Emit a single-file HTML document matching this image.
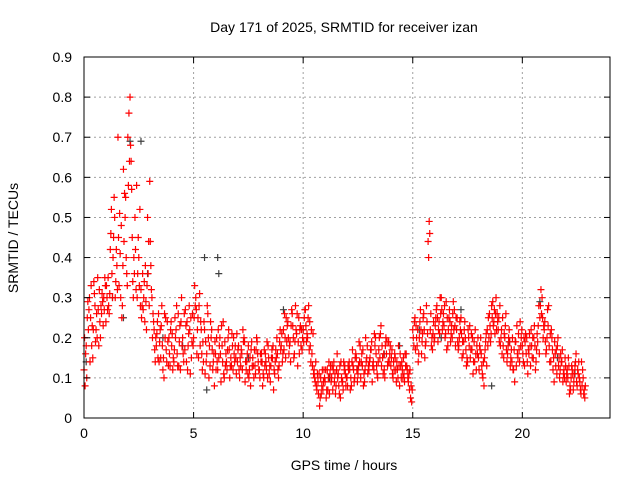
<!DOCTYPE html>
<html><head><meta charset="utf-8"><style>
html,body{margin:0;padding:0;background:#fff;}
svg{display:block;font-family:"Liberation Sans",sans-serif;}
</style></head><body>
<svg id="chart" width="640" height="480">
<text x="344" y="32" font-size="14" text-anchor="middle">Day 171 of 2025, SRMTID for receiver izan</text>
<text x="344" y="470" font-size="14" text-anchor="middle">GPS time / hours</text>
<text x="18" y="238" font-size="14" text-anchor="middle" transform="rotate(-90 18 238)">SRMTID / TECUs</text>
<g id="grid"></g><g id="marks"></g><g id="axes"></g>
</svg>
<script>
const xTicks=[0,5,10,15,20];
const yTicks=[0,0.1,0.2,0.3,0.4,0.5,0.6,0.7,0.8,0.9];
const yTickLabels=["0","0.1","0.2","0.3","0.4","0.5","0.6","0.7","0.8","0.9"];
const sampleStepHours=0.1;
const redA=[0.12,0.18,0.22,0.25,0.15,0.28,0.20,0.32,0.26,0.30,
0.24,0.35,0.42,0.30,0.50,0.38,0.33,0.48,0.62,0.55,
0.70,0.80,0.45,0.36,0.58,0.40,0.32,0.27,0.38,0.50,
0.59,0.30,0.22,0.18,0.26,0.15,0.12,0.20,0.24,0.16,
0.18,0.14,0.22,0.26,0.12,0.20,0.17,0.24,0.28,0.15,
0.20,0.30,0.25,0.18,0.12,0.22,0.16,0.10,0.20,0.14,
0.16,0.12,0.20,0.18,0.10,0.14,0.22,0.15,0.12,0.18,
0.14,0.10,0.16,0.20,0.12,0.18,0.08,0.15,0.13,0.19,
0.12,0.16,0.10,0.14,0.18,0.09,0.15,0.11,0.20,0.13,
0.18,0.22,0.15,0.24,0.19,0.26,0.16,0.21,0.25,0.18,
0.22,0.27,0.20,0.24,0.16,0.12,0.08,0.06,0.10,0.07,
0.09,0.12,0.06,0.10,0.14,0.08,0.11,0.05,0.09,0.13,
0.10,0.14,0.08,0.12,0.16,0.11,0.18,0.13,0.09,0.15,
0.12,0.17,0.14,0.20,0.10,0.15,0.18,0.12,0.16,0.19,
0.13,0.10,0.15,0.12,0.08,0.14,0.11,0.16,0.09,0.05,
0.22,0.25,0.18,0.20,0.16,0.26,0.19,0.44,0.22,0.17,
0.20,0.28,0.24,0.30,0.26,0.21,0.18,0.24,0.20,0.27,
0.22,0.18,0.25,0.16,0.20,0.14,0.23,0.17,0.19,0.12,
0.15,0.20,0.10,0.17,0.22,0.26,0.28,0.24,0.30,0.22,
0.18,0.25,0.20,0.14,0.22,0.17,0.12,0.19,0.15,0.24,
0.18,0.13,0.20,0.16,0.22,0.15,0.12,0.19,0.25,0.30,
0.22,0.17,0.28,0.14,0.12,0.16,0.18,0.10,0.14,0.12,
0.09,0.15,0.07,0.11,0.13,0.08,0.10,0.14,0.06];
const redB=[0.08,0.25,0.30,0.18,0.34,0.22,0.27,0.20,0.29,0.35,
0.30,0.26,0.52,0.45,0.34,0.70,0.41,0.28,0.56,0.36,
0.76,0.64,0.30,0.42,0.36,0.52,0.28,0.34,0.22,0.44,
0.38,0.26,0.14,0.24,0.19,0.28,0.10,0.17,0.13,0.22,
0.12,0.25,0.16,0.19,0.30,0.14,0.23,0.18,0.11,0.26,
0.33,0.16,0.28,0.22,0.14,0.19,0.26,0.13,0.17,0.08,
0.20,0.15,0.09,0.24,0.13,0.17,0.10,0.21,0.16,0.11,
0.18,0.13,0.22,0.09,0.16,0.12,0.19,0.10,0.17,0.14,
0.16,0.08,0.13,0.19,0.11,0.15,0.07,0.17,0.12,0.22,
0.14,0.26,0.19,0.16,0.23,0.20,0.28,0.13,0.22,0.17,
0.25,0.19,0.28,0.14,0.21,0.09,0.11,0.03,0.08,0.12,
0.05,0.10,0.13,0.07,0.11,0.16,0.06,0.10,0.14,0.08,
0.13,0.07,0.17,0.10,0.12,0.19,0.14,0.08,0.20,0.11,
0.15,0.09,0.21,0.13,0.17,0.23,0.11,0.18,0.13,0.16,
0.17,0.12,0.09,0.18,0.13,0.10,0.16,0.12,0.07,0.04,
0.18,0.23,0.14,0.27,0.21,0.15,0.24,0.49,0.18,0.24,
0.25,0.19,0.30,0.22,0.28,0.17,0.25,0.21,0.29,0.18,
0.19,0.24,0.15,0.22,0.13,0.20,0.17,0.11,0.22,0.16,
0.18,0.13,0.08,0.21,0.25,0.19,0.29,0.21,0.26,0.19,
0.22,0.15,0.26,0.18,0.13,0.20,0.09,0.23,0.17,0.20,
0.14,0.21,0.11,0.18,0.15,0.23,0.17,0.28,0.32,0.20,
0.19,0.27,0.14,0.20,0.09,0.17,0.13,0.16,0.09,0.15,
0.12,0.06,0.13,0.09,0.16,0.11,0.07,0.12,0.05];
const redC=[0.20,0.10,0.27,0.33,0.22,0.19,0.35,0.24,0.31,0.27,
0.33,0.28,0.46,0.40,0.30,0.32,0.51,0.25,0.44,0.40,
0.58,0.68,0.34,0.50,0.30,0.33,0.25,0.30,0.29,0.36,
0.44,0.20,0.17,0.21,0.14,0.23,0.15,0.25,0.19,0.13,
0.21,0.17,0.28,0.13,0.24,0.16,0.27,0.12,0.22,0.19,
0.25,0.27,0.15,0.24,0.19,0.11,0.28,0.18,0.22,0.16,
0.12,0.22,0.16,0.14,0.19,0.12,0.17,0.13,0.20,0.15,
0.17,0.15,0.12,0.19,0.14,0.10,0.17,0.13,0.11,0.16,
0.10,0.14,0.17,0.12,0.15,0.13,0.18,0.14,0.16,0.19,
0.21,0.17,0.25,0.20,0.14,0.23,0.19,0.26,0.16,0.22,
0.19,0.23,0.25,0.18,0.13,0.10,0.07,0.11,0.06,0.09,
0.12,0.07,0.11,0.13,0.09,0.12,0.08,0.14,0.07,0.11,
0.08,0.12,0.14,0.09,0.15,0.13,0.10,0.17,0.12,0.18,
0.14,0.19,0.12,0.16,0.14,0.21,0.15,0.10,0.19,0.14,
0.15,0.14,0.12,0.10,0.16,0.12,0.09,0.13,0.11,0.08,
0.20,0.17,0.22,0.24,0.19,0.22,0.28,0.40,0.26,0.21,
0.23,0.25,0.21,0.27,0.23,0.29,0.22,0.19,0.26,0.23,
0.25,0.20,0.21,0.19,0.17,0.22,0.15,0.20,0.14,0.18,
0.12,0.16,0.14,0.19,0.18,0.23,0.25,0.27,0.22,0.25,
0.20,0.18,0.23,0.16,0.19,0.14,0.17,0.13,0.21,0.18,
0.16,0.19,0.14,0.21,0.18,0.20,0.14,0.23,0.28,0.25,
0.24,0.20,0.18,0.22,0.15,0.13,0.20,0.12,0.17,0.10,
0.11,0.13,0.10,0.07,0.14,0.12,0.09,0.08,0.07];
const redD=[0.16,0.29,0.14,0.23,0.31,0.26,0.18,0.28,0.23,0.33,
0.27,0.31,0.36,0.55,0.42,0.45,0.30,0.38,0.50,0.33,
0.64,0.57,0.40,0.32,0.45,0.28,0.36,0.24,0.33,0.28,
0.32,0.24,0.20,0.15,0.22,0.18,0.26,0.14,0.20,0.24,
0.15,0.20,0.13,0.23,0.18,0.26,0.14,0.21,0.25,0.18,
0.28,0.22,0.31,0.16,0.24,0.14,0.20,0.24,0.12,0.19,
0.14,0.18,0.23,0.11,0.16,0.20,0.13,0.18,0.14,0.21,
0.12,0.17,0.19,0.14,0.11,0.15,0.13,0.17,0.20,0.12,
0.14,0.11,0.16,0.10,0.13,0.17,0.12,0.15,0.10,0.17,
0.16,0.20,0.23,0.18,0.27,0.15,0.22,0.19,0.23,0.20,
0.27,0.21,0.17,0.22,0.11,0.14,0.09,0.05,0.12,0.10,
0.07,0.14,0.09,0.12,0.06,0.10,0.13,0.09,0.12,0.10,
0.12,0.10,0.13,0.15,0.09,0.14,0.16,0.11,0.14,0.13,
0.17,0.13,0.18,0.11,0.20,0.13,0.16,0.20,0.14,0.18,
0.11,0.16,0.14,0.13,0.10,0.15,0.13,0.10,0.12,0.07,
0.24,0.20,0.16,0.22,0.25,0.18,0.21,0.46,0.20,0.19,
0.27,0.22,0.26,0.24,0.20,0.25,0.27,0.23,0.22,0.25,
0.17,0.22,0.19,0.24,0.15,0.18,0.21,0.14,0.16,0.20,
0.17,0.11,0.15,0.13,0.20,0.21,0.23,0.26,0.24,0.28,
0.16,0.21,0.17,0.20,0.15,0.12,0.19,0.16,0.14,0.22,
0.20,0.16,0.17,0.13,0.20,0.18,0.21,0.16,0.26,0.23,
0.16,0.23,0.21,0.17,0.19,0.11,0.15,0.14,0.11,0.13,
0.10,0.08,0.12,0.11,0.09,0.14,0.06,0.10,0.08];
const grayHours=[0.1,1.3,2.1,2.6,2.9,5.5,5.6,6.1,6.15,9.1,10.0,14.4,17.2,18.6,20.8,7.5,12.5,16.3,3.6,4.5,1.8,8.3,11.2,13.7,15.3,19.4,21.6,22.4];
const grayValues=[0.14,0.30,0.69,0.69,0.36,0.40,0.07,0.40,0.36,0.27,0.22,0.18,0.27,0.08,0.29,0.15,0.12,0.20,0.20,0.18,0.25,0.14,0.10,0.16,0.22,0.19,0.15,0.11];

const L=84,R=610,T=57,B=418,xMax=24,yMax=0.9;
const NS="http://www.w3.org/2000/svg";
function xs(v){return L+(R-L)*v/xMax;}
function ys(v){return B-(B-T)*v/yMax;}
function mk(tag,attrs,parent){const e=document.createElementNS(NS,tag);for(const k in attrs)e.setAttribute(k,attrs[k]);parent.appendChild(e);return e;}
const grid=document.getElementById('grid'),marks=document.getElementById('marks'),axes=document.getElementById('axes');
xTicks.forEach(t=>{
 const x=xs(t);
 if(t>0){const g=mk('line',{x1:x,x2:x,y1:T,y2:B,stroke:'#a0a0a0','stroke-dasharray':'2,3'},grid);
 
 }
 const tk=mk('line',{x1:x,x2:x,y1:B,y2:B-6,stroke:'#000'},axes);
 
 
 const tk2=mk('line',{x1:x,x2:x,y1:T,y2:T+6,stroke:'#000'},axes);
 
 
 const lb=mk('text',{x:x,y:B+20,'font-size':14,'text-anchor':'middle'},axes);lb.textContent=String(t);
 
 
});
yTicks.forEach((t,i)=>{
 const y=ys(t);
 if(t>0&&t<yMax){const g=mk('line',{x1:L,x2:R,y1:y,y2:y,stroke:'#a0a0a0','stroke-dasharray':'2,3'},grid);
 
 }
 const tk=mk('line',{x1:L,x2:L+6,y1:y,y2:y,stroke:'#000'},axes);
 
 
 const tk2=mk('line',{x1:R,x2:R-6,y1:y,y2:y,stroke:'#000'},axes);
 
 
 const lb=mk('text',{x:L-12,y:y+5,'font-size':14,'text-anchor':'end'},axes);lb.textContent=yTickLabels[i];
 
 
});
const frame=mk('rect',{x:L,y:T,width:R-L,height:B-T,fill:'none',stroke:'#000'},axes);


function plus(h,v,color,name){
 const x=xs(h),y=ys(v);
 const p=mk('path',{d:`M${x-3.5},${y}H${x+3.5}M${x},${y-3.5}V${y+3.5}`,stroke:color,'stroke-width':1.2,fill:'none'},marks);
 
 
}
grayValues.forEach((v,i)=>plus(grayHours[i],v,'#404040','gray-point'));
redA.forEach((v,i)=>plus(i*sampleStepHours,v,'#ff0000','red-point'));
redB.forEach((v,i)=>plus(i*sampleStepHours+sampleStepHours/2,v,'#ff0000','red-point'));
redC.forEach((v,i)=>plus(i*sampleStepHours+sampleStepHours/4,v,'#ff0000','red-point'));
redD.forEach((v,i)=>plus(i*sampleStepHours+sampleStepHours*3/4,v,'#ff0000','red-point'));
</script>
</body></html>
